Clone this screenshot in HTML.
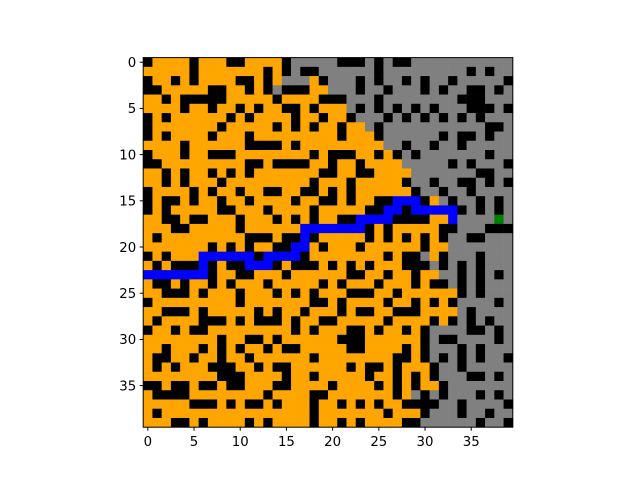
<!DOCTYPE html>
<html><head><meta charset="utf-8">
<style>
html,body{margin:0;padding:0;background:#fff;}
svg{display:block;}
text{font-family:"DejaVu Sans","Liberation Sans",sans-serif;font-size:13.3px;fill:#000;}
</style></head>
<body>
<svg id="chart" width="640" height="480" xmlns="http://www.w3.org/2000/svg">
<g id="cells"></g>
<rect x="143.2" y="57.6" width="369.6" height="369.6" fill="none" stroke="#000" stroke-width="1"/>
<g id="xticks"></g>
<g id="yticks"></g>
</svg>
<script>
// O=visited(orange) B=wall(black) G=unvisited(gray) L=path(blue) E=goal(green)
const gridRows = [
"BOOOOBOOOBBOOOOBGGGGGBBBGBGBBGGGGGGGGGGG",
"OOOOOBOOOOOOOBOBGBBGGGGGGBGGGGGGGGGBGBGG",
"BOOBOBOOOOBBOBOGGGOBGGGBGBGGBGBGGBGGGGGB",
"BBOOOOOBBOOBOBGBBBOOGGGBGGBGGGBGBGGBBGBG",
"OOBOBBBBBOOOOOBOOOOBBBGGGBGGGGGGGGBBBGGG",
"OOOOBOOBOOBOBOOBBOBOOOGBGBGBGBGBGGGBBBGB",
"BOBOOOOOOBOBOOOOBOOBOOBGGGBGBGBGBGBGBGGG",
"BOOOOOOOBOOOOOBOBOBOOBOOGBGGGGGGGGGGGBBG",
"BOBOOOOBOOOBOOOOOOOOOBOOOBGGGGGGBGBBGBGG",
"OOOOBOOOOOOBBBBOBOOOOOOOOOGGBGGBGGBGGGGG",
"BOOOBOOBBBOOOOOOOOBOBBBOOBOBGBGGGGGGGBGG",
"BBOOOOOOOOOBBOBBBBOOBOOBOOOOGGGGGBGBGGGB",
"OOBOBOOBOBOBOOOOOOOBBOOBBOOOOGGGGGGGBBGG",
"OOBOBOOOBOOOOOOOOOBOOOBOOOOOBGGBGGBBGBGB",
"BOOOOBOBOOBOOBBOOBBOBOBOOOOOOBGGBGGBGGGG",
"BOBBOBOOBOOBOOOOBOOBBOBOOBBLLLBOGBGGBGBG",
"BOBOOOOOBBOOOBOOOOBOOOOOBBLLBLLLLLBGBGBG",
"OOBBOBBOOOBOOOBOBOBOOBBLLLLBBBBOOLGGGGEG",
"OOOBBOOOOOBOOOOOOLLLLLLLBOBOOOOOBBGGGBBB",
"OBOOOOOOOOOBBBOBBLBOOOOOBOBOBOBOBGGBBGGG",
"OOOOOOOBOBOBOOBBLLOBOOOBOOOOOOBOOGGGGGGG",
"BOBOOOLLLLLLBLLLLBOOOOOOOOBOBBGOBGGGBGGG",
"OBOBBBLBOBBLLLBOBBBOBOBOBOOOBBBGBGBGBGGG",
"LLLLLLLBOOBBOOOBOOOOOOBBOOBOOBOOGGBGBGBG",
"OBBOBOOBOBOOOBOOOOOBOBOOOBOOOBOBBGBGBGGG",
"OOBBBOBOOOBOOOBOBOBOOOBBBOOBOOOOOOBGBGGG",
"BOOOOOOOOOBOOOOOOOBBOBOOOOBOOBOBOBGGGGBG",
"OOBBBOBOOOOOBOBOOBOOOBOBBOOBBBOOOOGBGGGG",
"OBOOOOBBBOBOBBBOBOOBBOOOOOBOOOOBOBGBGBGG",
"BOOBOBBOOOOOOOOOBOBOOOBBOBOOBOBGGGGBBGBG",
"OOOOOOOOBOOBBOBOOOOOOBBBOOOOOOBGBBGGGGBG",
"OOBOOOBOBOBOOBOBBOOOOOBBOOOOBOBGGGBGBGGG",
"OBBOOBOOBOOBOOOOOOBOOOOOOOOBBOBGBGBGBGGB",
"OBOBOOOBBBOOBOBBOOOOOOBOBBOBOOOBGGBGGGGG",
"OOOOOOOOBBBOOOOBOOBOOOOOBOOBOBOBGGGBBGBG",
"BBOBBOBBOBBOOOBBOOOOBOOOOBOBOBOOBGGGGGGG",
"OBBBBOOOOOOOOBOOOOBBOOOOOOOBOGBGBGGGBGBG",
"OOOOOBBBOBOBBOBOOOBOOBOBOBOOBBBBGGBGGGGB",
"OBOOOOOOOOOOOOOOOOBOOOOOOOBOOOBGGGBGGBGG",
"OOOBBOBOOOOBOBOOOOBOOBOBOOOOBBGGGGGGBGGB"
];
const colorKeys = ["O","B","G","L","E"];
const colorValues = ["#ffa500","#000000","#808080","#0000ff","#008000"];
const tickValues = [0,5,10,15,20,25,30,35];
const tickLabels = ["0","5","10","15","20","25","30","35"];

const NS="http://www.w3.org/2000/svg";
const X0=143.2, Y0=57.6, SIZE=369.6, N=40, CELL=SIZE/N;
function xScale(c){return X0+c*CELL;}
function yScale(r){return Y0+r*CELL;}

const cellsG=document.getElementById('cells');
for(let r=0;r<gridRows.length;r++){
  const row=gridRows[r];
  for(let c=0;c<row.length;c++){
    const k=colorKeys.indexOf(row[c]);
    const rect=document.createElementNS(NS,'rect');
    rect.setAttribute('x',xScale(c).toFixed(2));
    rect.setAttribute('y',yScale(r).toFixed(2));
    rect.setAttribute('width',(CELL+0.3).toFixed(2));
    rect.setAttribute('height',(CELL+0.3).toFixed(2));
    rect.setAttribute('fill',colorValues[k<0?0:k]);
    
    
    cellsG.appendChild(rect);
  }
}
const xg=document.getElementById('xticks'), yg=document.getElementById('yticks');
for(let i=0;i<tickValues.length;i++){
  const v=tickValues[i];
  const cx=xScale(v+0.5), cy=yScale(v+0.5);
  const xt=document.createElementNS(NS,'line');
  xt.setAttribute('x1',cx);xt.setAttribute('x2',cx);
  xt.setAttribute('y1',Y0+SIZE);xt.setAttribute('y2',Y0+SIZE+3.5);
  xt.setAttribute('stroke','#000');
  
  
  xg.appendChild(xt);
  const xl=document.createElementNS(NS,'text');
  xl.setAttribute('x',cx);xl.setAttribute('y',Y0+SIZE+19);
  xl.setAttribute('text-anchor','middle');
  xl.textContent=tickLabels[i];
  
  
  xg.appendChild(xl);
  const yt=document.createElementNS(NS,'line');
  yt.setAttribute('x1',X0-3.5);yt.setAttribute('x2',X0);
  yt.setAttribute('y1',cy);yt.setAttribute('y2',cy);
  yt.setAttribute('stroke','#000');
  
  
  yg.appendChild(yt);
  const yl=document.createElementNS(NS,'text');
  yl.setAttribute('x',X0-7);yl.setAttribute('y',cy+4.8);
  yl.setAttribute('text-anchor','end');
  yl.textContent=tickLabels[i];
  
  
  yg.appendChild(yl);
}
</script>
</body></html>
